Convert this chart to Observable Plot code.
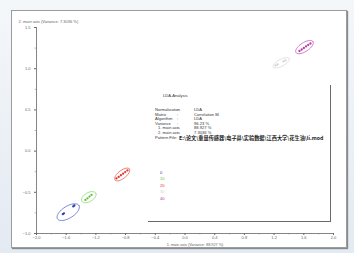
<!DOCTYPE html>
<html><head><meta charset="utf-8">
<script src="https://cdn.jsdelivr.net/npm/d3@7"></script>
<script src="https://cdn.jsdelivr.net/npm/@observablehq/plot@0.6"></script>
<style>
html,body{margin:0;padding:0;}
body{width:354px;height:253px;overflow:hidden;position:relative;background:linear-gradient(#f4f7fa,#e3eaf2);font-family:"Liberation Sans",Arial,sans-serif;}
#panel{position:absolute;left:11px;top:10px;width:334px;height:236px;background:#fff;border:1px solid #9c9c9c;box-shadow:1px 1px 1px #8a8a8a;}
#chart{position:absolute;left:0;top:0;}
#info{position:absolute;left:148px;top:85px;width:182px;height:136px;border-right:1.4px solid #6a6a6a;border-bottom:1.4px solid #6a6a6a;}
.t{position:absolute;white-space:nowrap;font-size:4.1px;line-height:4.2px;color:#333;}
.cn{font-family:"Noto Sans CJK SC",sans-serif;font-weight:bold;font-size:5.2px;line-height:5.2px;color:#222;}
</style></head>
<body>
<div id="panel"></div>
<div id="chart"></div>
<div id="info"></div>
<script>
// ---- data ----
const classNames = ["0","10","20","30","40"];
const classColors = ["#2b3fb3","#5cc43a","#e4352c","#d4d4d4","#b73ba8"];
const ellipseColors = ["#5a68cc","#8ad66a","#ea5a52","#dcdcdc","#c45ab8"];

const ptClass = [0,0,0,0, 1,1,1,1, 2,2,2,2,2,2, 3,3,3,3, 4,4,4,4,4,4];
const ptX = [-1.645,-1.630,-1.505,-1.490, -1.340,-1.313,-1.286,-1.259, -0.923,-0.893,-0.863,-0.834,-0.805,-0.775, 1.219,1.246,1.327,1.353, 1.542,1.572,1.601,1.631,1.660,1.690];
const ptY = [-0.765,-0.755,-0.672,-0.660, -0.593,-0.573,-0.552,-0.532, -0.332,-0.313,-0.293,-0.274,-0.254,-0.235, 1.039,1.051,1.088,1.100, 1.215,1.233,1.251,1.270,1.288,1.306];

// class ellipses: center, semi-axes (x-units), tilt (deg)
const ellX = [-1.573,-1.296,-0.846,1.296,1.609];
const ellY = [-0.741,-0.559,-0.284,1.072,1.262];
const ellA = [0.170,0.108,0.122,0.122,0.136];
const ellB = [0.080,0.060,0.054,0.046,0.060];
const ellAngle = [32,30,38,28,33];

const xTicks = [-2,-1.6,-1.2,-0.8,-0.4,0,0.4,0.8,1.2,1.6,2];
const xMinor = [-1.8,-1.4,-1.0,-0.6,-0.2,0.2,0.6,1.0,1.4,1.8];
const yTicks = [-1,-0.5,0,0.5,1,1.5];
const yMinor = [-0.75,-0.25,0.25,0.75,1.25];

const xTitle = "1. main axis (Variance: 88.927 %)";
const yTitle = "2. main axis (Variance: 7.3036 %)";

const infoTitle = "LDA-Analysis";
const infoLabels = ["Normalization","Matrix","Algorithm","Variance","  1. main axis","  2. main axis"];
const infoValues = ["LDA","Correlation M.","LDA","96.23 %","88.927 %","7.3036 %"];
const patternFile = "E:\\论文\\重量传感器\\电子鼻\\实验数据\\江西大学\\花生油\\li.mod";

// ---- chart ----
const W = 354, H = 253, mL = 36, mR = 21, mT = 27, mB = 20;
const xD = [-2, 2], yD = [-1, 1.5];
const pxX = (W - mL - mR) / (xD[1] - xD[0]);
const pxY = (H - mT - mB) / (yD[1] - yD[0]);
const aspect = pxX / pxY;

const points = ptX.map((x, i) => ({x, y: ptY[i], c: ptClass[i]}));
const ellPts = [];
ellX.forEach((cx, k) => {
  const th = ellAngle[k] * Math.PI / 180;
  d3.range(0, 361, 8).forEach(deg => {
    const t = deg * Math.PI / 180;
    const ex = ellA[k] * Math.cos(t), ey = ellB[k] * Math.sin(t);
    ellPts.push({k, x: cx + ex * Math.cos(th) - ey * Math.sin(th),
      y: ellY[k] + (ex * Math.sin(th) + ey * Math.cos(th)) * aspect});
  });
});

const fmt = d => d.toFixed(1).replace("-", "−");
const minorLen = 1.4;
const plot = Plot.plot({
  width: W, height: H, marginLeft: mL, marginRight: mR, marginTop: mT, marginBottom: mB,
  style: {background: "transparent", fontFamily: "Liberation Sans, Arial, sans-serif", fontSize: "4px", color: "#666"},
  x: {domain: xD, ticks: xTicks, tickFormat: fmt, tickSize: 2, tickPadding: 1, label: null},
  y: {domain: yD, ticks: yTicks, tickFormat: fmt, tickSize: 2, tickPadding: 4, label: null},
  marks: [
    Plot.ruleX(xMinor, {y1: yD[0], y2: yD[0] - minorLen / pxY, stroke: "#999", strokeWidth: 0.7}),
    Plot.ruleY(yMinor, {x1: xD[0], x2: xD[0] - minorLen / pxX, stroke: "#999", strokeWidth: 0.7}),
    Plot.ruleY([yD[0]], {stroke: "#666", strokeWidth: 0.8}),
    Plot.ruleX([xD[0]], {stroke: "#666", strokeWidth: 0.8}),
    Plot.line(ellPts, {x: "x", y: "y", z: "k", stroke: d => ellipseColors[d.k], strokeWidth: 0.8, curve: "linear"}),
    Plot.dot(points, {x: "x", y: "y", r: 1.15, fill: d => classColors[d.c], stroke: null}),
    Plot.text([yTitle], {frameAnchor: "top-left", dx: -18, dy: -7.5, textAnchor: "start", fill: "#666", fontSize: 4}),
    Plot.text([xTitle], {frameAnchor: "bottom", dx: 10, dy: 12.5, fill: "#666", fontSize: 3.8})
  ]
});
document.getElementById("chart").append(plot);

// ---- info box ----
const info = document.getElementById("info");
function addText(txt, left, top, cls, color) {
  const d = document.createElement("div");
  d.className = "t" + (cls ? " " + cls : "");
  d.style.left = left + "px"; d.style.top = top + "px";
  if (color) d.style.color = color;
  d.textContent = txt;
  info.append(d);
  return d;
}
addText(infoTitle, 15, 9);
infoLabels.forEach((l, i) => {
  const top = 23 + i * 4.5;
  addText(l.trim(), l.startsWith(" ") ? 10 : 7, top);
  addText(":", 29, top);
  addText(infoValues[i], 46, top);
});
addText("Pattern File:", 7, 50.5);
addText(patternFile, 31, 50, "cn");
classNames.forEach((n, i) => addText(n, 12, 86 + i * 6.4, null, classColors[i]));
</script>
</body></html>
